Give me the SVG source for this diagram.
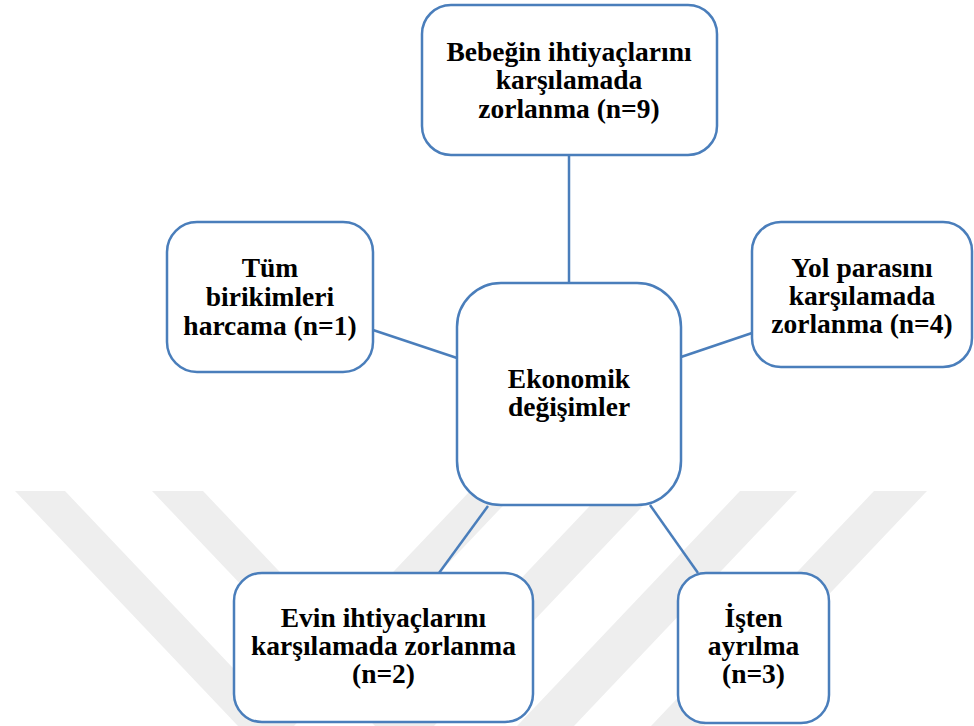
<svg xmlns="http://www.w3.org/2000/svg" width="974" height="726" viewBox="0 0 974 726">
<style>
.box{fill:#ffffff;stroke:#4a7ebb;stroke-width:2.5}
.edge{fill:none;stroke:#4a7ebb;stroke-width:2.5}
.wm{fill:#eeeeee}
text{font-family:"Liberation Serif","Times New Roman",serif;font-weight:bold;font-size:27.5px;fill:#000000;text-anchor:middle}
</style>
<rect x="0" y="0" width="974" height="726" fill="#ffffff"/>
<g id="watermark">
<polygon class="wm" points="15,491 65,491 288,726 238,726"/>
<polygon class="wm" points="152,491 203,491 426,726 375,726"/>
<polygon class="wm" points="470,491 517,491 294,726 247,726"/>
<polygon class="wm" points="604,491 657,491 434,726 381,726"/>
<polygon class="wm" points="740,491 797,491 574,726 517,726"/>
<polygon class="wm" points="874,491 927,491 704,726 651,726"/>
</g>
<g id="connectors">
<line class="edge" x1="569" y1="155" x2="569" y2="283"/>
<line class="edge" x1="373" y1="330" x2="457" y2="358"/>
<line class="edge" x1="681" y1="357" x2="752" y2="333"/>
<line class="edge" x1="488" y1="506" x2="439" y2="573"/>
<line class="edge" x1="650" y1="505" x2="698" y2="573"/>
</g>
<g id="node-center">
<rect class="box" x="457" y="283" width="224" height="222" rx="44" ry="44"/>
<text x="569" y="388">Ekonomik</text>
<text x="569" y="416">değişimler</text>
</g>
<g id="node-top">
<rect class="box" x="422" y="5" width="295" height="150" rx="29" ry="29"/>
<text x="569" y="61">Bebeğin ihtiyaçlarını</text>
<text x="569" y="89">karşılamada</text>
<text x="569" y="118">zorlanma (n=9)</text>
</g>
<g id="node-left">
<rect class="box" x="167" y="222" width="206" height="150" rx="30" ry="30"/>
<text x="270" y="277">Tüm</text>
<text x="270" y="306">birikimleri</text>
<text x="270" y="335">harcama (n=1)</text>
</g>
<g id="node-right">
<rect class="box" x="752" y="222" width="220" height="145" rx="29" ry="29"/>
<text x="862" y="277">Yol parasını</text>
<text x="862" y="305">karşılamada</text>
<text x="862" y="333">zorlanma (n=4)</text>
</g>
<g id="node-bottom-left">
<rect class="box" x="234" y="573" width="299" height="149" rx="28" ry="28"/>
<text x="383.5" y="627">Evin ihtiyaçlarını</text>
<text x="383.5" y="655">karşılamada zorlanma</text>
<text x="383.5" y="683">(n=2)</text>
</g>
<g id="node-bottom-right">
<rect class="box" x="678" y="573" width="151" height="150" rx="28" ry="28"/>
<text x="753.5" y="627">İşten</text>
<text x="753.5" y="655">ayrılma</text>
<text x="753.5" y="683">(n=3)</text>
</g>
</svg>
